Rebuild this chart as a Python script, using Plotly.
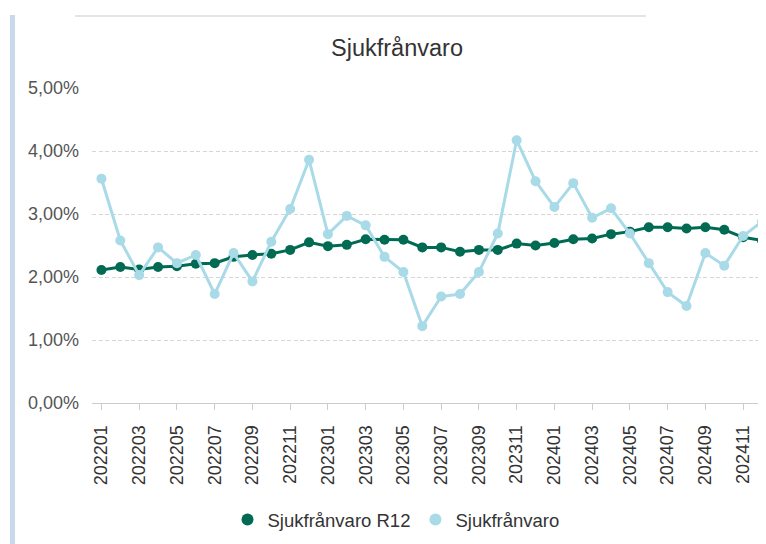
import plotly.graph_objects as go

months = ["202201","202202","202203","202204","202205","202206","202207","202208","202209","202210","202211","202212",
          "202301","202302","202303","202304","202305","202306","202307","202308","202309","202310","202311","202312",
          "202401","202402","202403","202404","202405","202406","202407","202408","202409","202410","202411","202412"]

r12 = [2.11, 2.16, 2.12, 2.16, 2.17, 2.21, 2.22, 2.32, 2.35, 2.37, 2.43, 2.55,
       2.49, 2.51, 2.60, 2.59, 2.59, 2.47, 2.47, 2.40, 2.43, 2.43, 2.53, 2.50,
       2.54, 2.60, 2.61, 2.68, 2.72, 2.79, 2.79, 2.77, 2.79, 2.75, 2.63, 2.58]

sjuk = [3.56, 2.58, 2.03, 2.47, 2.22, 2.35, 1.73, 2.38, 1.93, 2.56, 3.08, 3.86,
        2.68, 2.97, 2.82, 2.32, 2.08, 1.22, 1.69, 1.73, 2.08, 2.69, 4.17, 3.52,
        3.11, 3.49, 2.94, 3.09, 2.69, 2.22, 1.76, 1.54, 2.38, 2.18, 2.65, 2.88]

ytick_vals = [0, 1, 2, 3, 4, 5]
ytick_text = ["0,00%", "1,00%", "2,00%", "3,00%", "4,00%", "5,00%"]
xtick_labels = months[::2]

dark = "#006b52"
light = "#a8dae7"
FONT = "Liberation Sans, Arial, sans-serif"

fig = go.Figure()
fig.add_trace(go.Scatter(x=list(range(len(months))), y=r12, mode="lines+markers",
                         name="Sjukfrånvaro R12", showlegend=False, cliponaxis=False,
                         line=dict(color=dark, width=3), marker=dict(color=dark, size=10)))
fig.add_trace(go.Scatter(x=list(range(len(months))), y=sjuk, mode="lines+markers",
                         name="Sjukfrånvaro", showlegend=False, cliponaxis=False,
                         line=dict(color=light, width=3), marker=dict(color=light, size=10)))
# legend-only entries (circle symbols)
fig.add_trace(go.Scatter(x=[None], y=[None], mode="markers", name="Sjukfrånvaro R12",
                         marker=dict(color=dark, size=12)))
fig.add_trace(go.Scatter(x=[None], y=[None], mode="markers", name="Sjukfrånvaro",
                         marker=dict(color=light, size=12)))

OFF = 8  # page body margin
W, H = 766 - OFF, 544 - OFF
L = 92 - OFF
T = 88 - OFF
R = 0
B = H - (403 - OFF)
pw = W - L - R
ph = H - T - B

def px(p):  # page x -> paper x
    return (p - OFF - L) / pw

def py(p):  # page y -> paper y
    return (H - B - (p - OFF)) / ph

fig.update_layout(
    width=W, height=H,
    margin=dict(l=L, r=R, t=T, b=B, pad=0),
    paper_bgcolor="white", plot_bgcolor="white",
    font=dict(family=FONT, color="#333333"),
    title=dict(text="Sjukfrånvaro", x=px(397), xref="paper", xanchor="center",
               y=1 - (48 - OFF) / H, yanchor="middle", font=dict(size=23.5, color="#333333", family=FONT)),
    showlegend=True,
    legend=dict(orientation="h", x=px(396), xanchor="center", y=py(520),
                yanchor="middle", font=dict(size=18.5, color="#333333"), itemwidth=30,
                bgcolor="rgba(0,0,0,0)", tracegroupgap=0),
    xaxis=dict(range=[-0.5, (766 - 101) / 18.886], tickmode="array",
               tickvals=list(range(0, len(months), 2)), ticktext=xtick_labels,
               tickangle=-90, tickfont=dict(size=18, color="#333333"),
               showgrid=False, zeroline=False, showline=True, linecolor="#cccccc", linewidth=1,
               ticks="outside", ticklen=6, tickcolor="#cccccc", ticklabelstandoff=8, fixedrange=True),
    yaxis=dict(range=[0, 5], tickmode="array", tickvals=ytick_vals, ticktext=ytick_text,
               tickfont=dict(size=18, color="#555555"), showgrid=True, gridcolor="#d6d6d6",
               griddash="4px,2.5px", gridwidth=1, zeroline=False, showline=False,
               ticklabelstandoff=12, fixedrange=True),
    shapes=[
        dict(type="rect", xref="paper", yref="paper",
             x0=px(10), x1=px(15), y0=py(544), y1=py(15),
             fillcolor="#c9d9eb", line=dict(width=0), layer="below"),
        dict(type="line", xref="paper", yref="paper",
             x0=px(75), x1=px(646), y0=py(16), y1=py(16),
             line=dict(color="#dddddd", width=1.5)),
    ],
)

fig.write_html("out.html")
